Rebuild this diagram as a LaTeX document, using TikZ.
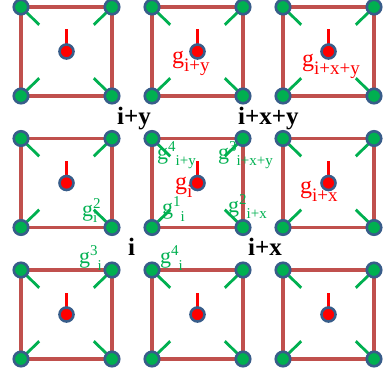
\documentclass[tikz,border=0pt]{standalone}
\usepackage{fontspec}
\setmainfont{Liberation Serif}
\usetikzlibrary{calc, backgrounds}
\definecolor{xEdge}{RGB}{192,80,77}
\definecolor{xGreen}{RGB}{0,176,80}
\definecolor{xBlue}{RGB}{56,93,138}
\definecolor{xRed}{RGB}{255,0,0}
\tikzset{
  site/.style={circle, draw=xBlue, line width=2.6pt, fill=xGreen, inner sep=0pt, minimum size=14.5pt},
  plaq/.style={circle, draw=xBlue, line width=2.6pt, fill=xRed, inner sep=0pt, minimum size=14pt},
  edge/.style={xEdge, line width=3.2pt},
  stub/.style={xGreen, line width=2.8pt},
  flux/.style={xRed, line width=3pt},
  vlab/.style={font=\fontsize{25}{25}\selectfont\bfseries, anchor=base west, inner sep=0pt},
  glab/.style={text=xRed, font=\fontsize{24}{24}\selectfont, anchor=base west, inner sep=0pt},
  hlab/.style={text=xGreen, font=\fontsize{22}{22}\selectfont, anchor=base west, inner sep=0pt},
}
% red plaquette label, green link label (sequential and stacked)
\newcommand{\gp}[1]{g\raisebox{-8pt}{\fontsize{19}{19}\selectfont #1}}
\newcommand{\gl}[2]{g\raisebox{8pt}{\fontsize{15}{15}\selectfont #1}\raisebox{-6pt}{\fontsize{15}{15}\selectfont #2}}
\newcommand{\gk}[2]{g\rlap{\raisebox{8pt}{\fontsize{15}{15}\selectfont #1}}\raisebox{-6pt}{\fontsize{15}{15}\selectfont #2}}

\begin{document}
\begin{tikzpicture}[x=1pt, y=-1pt]
  \useasboundingbox (0,0) rectangle (383,374);
  % plaquettes: corners a b (top), d e (bottom), centre p
  \foreach \c in {0,1,2}{
    \foreach \r in {0,1,2}{
      \pgfmathsetmacro{\xl}{21+131*\c}
      \pgfmathsetmacro{\xr}{\xl+91}
      \pgfmathsetmacro{\yt}{7+131.5*\r}
      \pgfmathsetmacro{\yb}{\yt+89}
      \node[site] (a\c\r) at (\xl,\yt) {};
      \node[site] (b\c\r) at (\xr,\yt) {};
      \node[site] (d\c\r) at (\xl,\yb) {};
      \node[site] (e\c\r) at (\xr,\yb) {};
      \node[plaq] (p\c\r) at ({(\xl+\xr)/2},{(\yt+\yb)/2}) {};
    }
  }
  \begin{scope}[on background layer]
    \foreach \c in {0,1,2}{
      \foreach \r in {0,1,2}{
        \draw[edge] (a\c\r.center) -- (b\c\r.center) -- (e\c\r.center) -- (d\c\r.center) -- cycle;
        \foreach \k in {a,b,d,e}
          \draw[stub] (\k\c\r.center) -- ($(\k\c\r)!0.4!(p\c\r)$);
        \draw[flux] (p\c\r.center) -- ++(0,-22);
      }
    }
  \end{scope}

  \node[vlab] (vy)  at (117,125) {i+y};
  \node[vlab] (vxy) at (238,125) {i+x+y};
  \node[vlab] (vi)  at (128,255) {i};
  \node[vlab] (vx)  at (248,255) {i+x};

  \node[glab] (gy)  at (172,64)  {\gp{i+y}};
  \node[glab] (gxy) at (302,67)  {\gp{i+x+y}};
  \node[glab] (gi)  at (175,190) {\gp{i}};
  \node[glab] (gx)  at (300,194) {\gp{i+x}};

  \node[hlab] (h4y)  at (157,160) {\gl{4}{i+y}};
  \node[hlab] (h3xy) at (218,160) {\gl{3}{i+x+y}};
  \node[hlab] (h1i)  at (162,215) {\gl{1}{i}};
  \node[hlab] (h2x)  at (228,213) {\gl{2}{i+x}};
  \node[hlab] (h2i)  at (82,217)  {\gk{2}{i}};
  \node[hlab] (h3i)  at (79,264)  {\gl{3}{i}};
  \node[hlab] (h4i)  at (160,264) {\gl{4}{i}};
\end{tikzpicture}
\end{document}
